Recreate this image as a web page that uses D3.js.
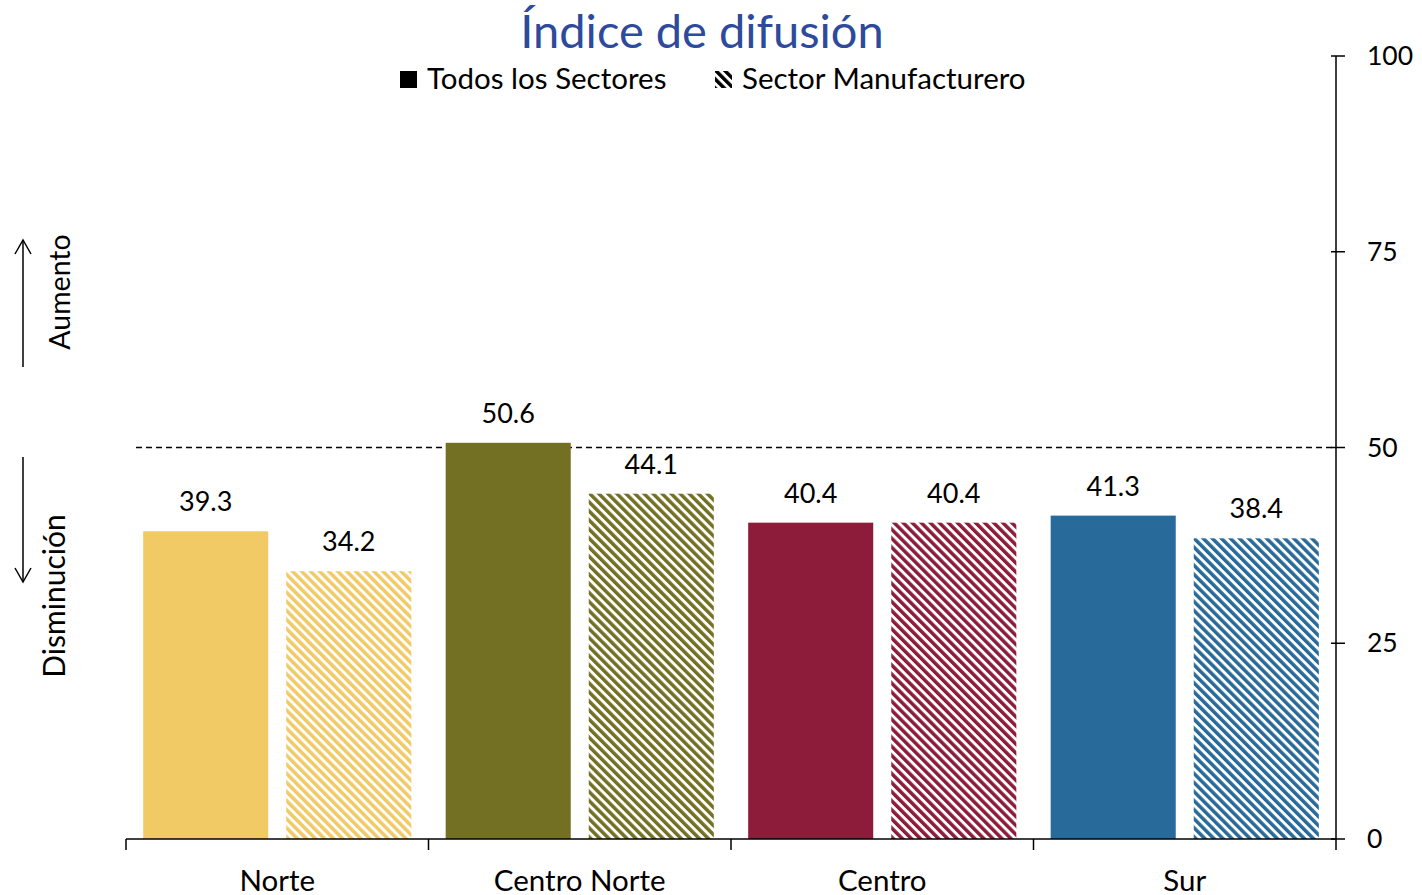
<!DOCTYPE html>
<html>
<head>
<meta charset="utf-8">
<script src="https://cdn.jsdelivr.net/npm/d3@7"></script>
<style>
html,body{margin:0;padding:0;background:#fff;}
svg{display:block;font-family:Lato,"Open Sans",sans-serif;}
</style>
</head>
<body>
<svg id="chart" width="1422" height="895"></svg>
<script>
const categories = ["Norte", "Centro Norte", "Centro", "Sur"];
const seriesNames = ["Todos los Sectores", "Sector Manufacturero"];
const todosValues = [39.3, 50.6, 40.4, 41.3];
const manufValues = [34.2, 44.1, 40.4, 38.4];
const regionColors = ["#F1CA66", "#737023", "#8D1C3A", "#286A99"];
const yTicks = [0, 25, 50, 75, 100];
const referenceValue = 50;

const svg = d3.select("#chart");
const defs = svg.append("defs");

const x = d3.scaleBand().domain(categories).range([126, 1336]).paddingInner(0).paddingOuter(0);
const xs = d3.scaleBand().domain([0, 1]).range([0, x.bandwidth()]).paddingInner(0.126).paddingOuter(0.12);
const y = d3.scaleLinear().domain([0, 100]).range([839, 56]);

// hatch patterns
function makePattern(id, color) {
  const p = defs.append("pattern")
    .attr("id", id)
    .attr("patternUnits", "userSpaceOnUse")
    .attr("width", 6.4).attr("height", 10)
    .attr("patternTransform", "rotate(-45)");
  p.append("rect").attr("width", 6.4).attr("height", 10).attr("fill", "#fff");
  p.append("rect").attr("width", 3.5).attr("height", 10).attr("fill", color);
}
regionColors.forEach((c, i) => makePattern("hatch" + i, c));
makePattern("hatchLegend", "#000");

// dashed reference line
svg.append("line")
  .attr("x1", 136).attr("x2", 1336)
  .attr("y1", y(referenceValue)).attr("y2", y(referenceValue))
  .attr("stroke", "#000").attr("stroke-width", 1.3)
  .attr("stroke-dasharray", "6,4");

// bars
const groups = svg.selectAll("g.cat").data(categories).enter().append("g")
  .attr("class", "cat")
  .attr("transform", d => `translate(${x(d)},0)`);

groups.each(function (cat, i) {
  const g = d3.select(this);
  const vals = [todosValues[i], manufValues[i]];
  vals.forEach((v, s) => {
    g.append("rect")
      .attr("x", xs(s))
      .attr("width", xs.bandwidth())
      .attr("y", y(v))
      .attr("height", y(0) - y(v))
      .attr("fill", s === 0 ? regionColors[i] : `url(#hatch${i})`);
    g.append("text")
      .attr("x", xs(s) + xs.bandwidth() / 2)
      .attr("y", y(v) - 20)
      .attr("text-anchor", "middle")
      .attr("font-size", 27)
      .attr("fill", "#000")
      .text(v.toFixed(1));
  });
});

// x axis
const xAxisG = svg.append("g");
xAxisG.append("line")
  .attr("x1", 126).attr("x2", 1336).attr("y1", y(0)).attr("y2", y(0))
  .attr("stroke", "#000").attr("stroke-width", 1.5);
const bounds = categories.map(c => x(c)).concat([x.range()[1]]);
xAxisG.selectAll("line.tick").data(bounds).enter().append("line")
  .attr("class", "tick")
  .attr("x1", d => d).attr("x2", d => d)
  .attr("y1", y(0)).attr("y2", y(0) + 11)
  .attr("stroke", "#000").attr("stroke-width", 1.5);
xAxisG.selectAll("text").data(categories).enter().append("text")
  .attr("x", d => x(d) + x.bandwidth() / 2)
  .attr("y", 891)
  .attr("text-anchor", "middle")
  .attr("font-size", 29.5)
  .text(d => d);

// y axis (right)
const yAxisG = svg.append("g");
yAxisG.append("line")
  .attr("x1", 1336).attr("x2", 1336).attr("y1", y(100)).attr("y2", y(0))
  .attr("stroke", "#000").attr("stroke-width", 1.5);
yAxisG.selectAll("line.tick").data(yTicks).enter().append("line")
  .attr("x1", 1331).attr("x2", 1345)
  .attr("y1", d => y(d)).attr("y2", d => y(d))
  .attr("stroke", "#000").attr("stroke-width", 1.5);
yAxisG.selectAll("text").data(yTicks).enter().append("text")
  .attr("x", 1367)
  .attr("y", d => y(d) + 9)
  .attr("font-size", 26.5)
  .text(d => d);

// title
svg.append("text")
  .attr("x", 702).attr("y", 48)
  .attr("text-anchor", "middle")
  .attr("font-size", 47)
  .attr("fill", "#2D4A9C")
  .text("Índice de difusión");

// legend
const legend = svg.append("g");
legend.append("rect").attr("x", 400).attr("y", 71).attr("width", 17).attr("height", 17).attr("fill", "#000");
legend.append("text").attr("x", 427).attr("y", 89).attr("font-size", 29.5).text(seriesNames[0]);
legend.append("rect").attr("x", 715).attr("y", 71).attr("width", 17).attr("height", 17).attr("fill", "url(#hatchLegend)");
legend.append("text").attr("x", 742).attr("y", 89).attr("font-size", 29.5).text(seriesNames[1]);

// side annotations
const ann = svg.append("g").attr("stroke", "#000").attr("stroke-width", 1.5).attr("fill", "none");
ann.append("line").attr("x1", 23).attr("x2", 23).attr("y1", 367).attr("y2", 240);
ann.append("path").attr("d", "M15,254 L23,240 L31,254");
ann.append("line").attr("x1", 23).attr("x2", 23).attr("y1", 457).attr("y2", 582);
ann.append("path").attr("d", "M15,568 L23,582 L31,568");

svg.append("text")
  .attr("transform", "translate(70,292) rotate(-90)")
  .attr("text-anchor", "middle")
  .attr("font-size", 28.5)
  .text("Aumento");
svg.append("text")
  .attr("transform", "translate(65,596) rotate(-90)")
  .attr("text-anchor", "middle")
  .attr("font-size", 30)
  .text("Disminución");
</script>
</body>
</html>
